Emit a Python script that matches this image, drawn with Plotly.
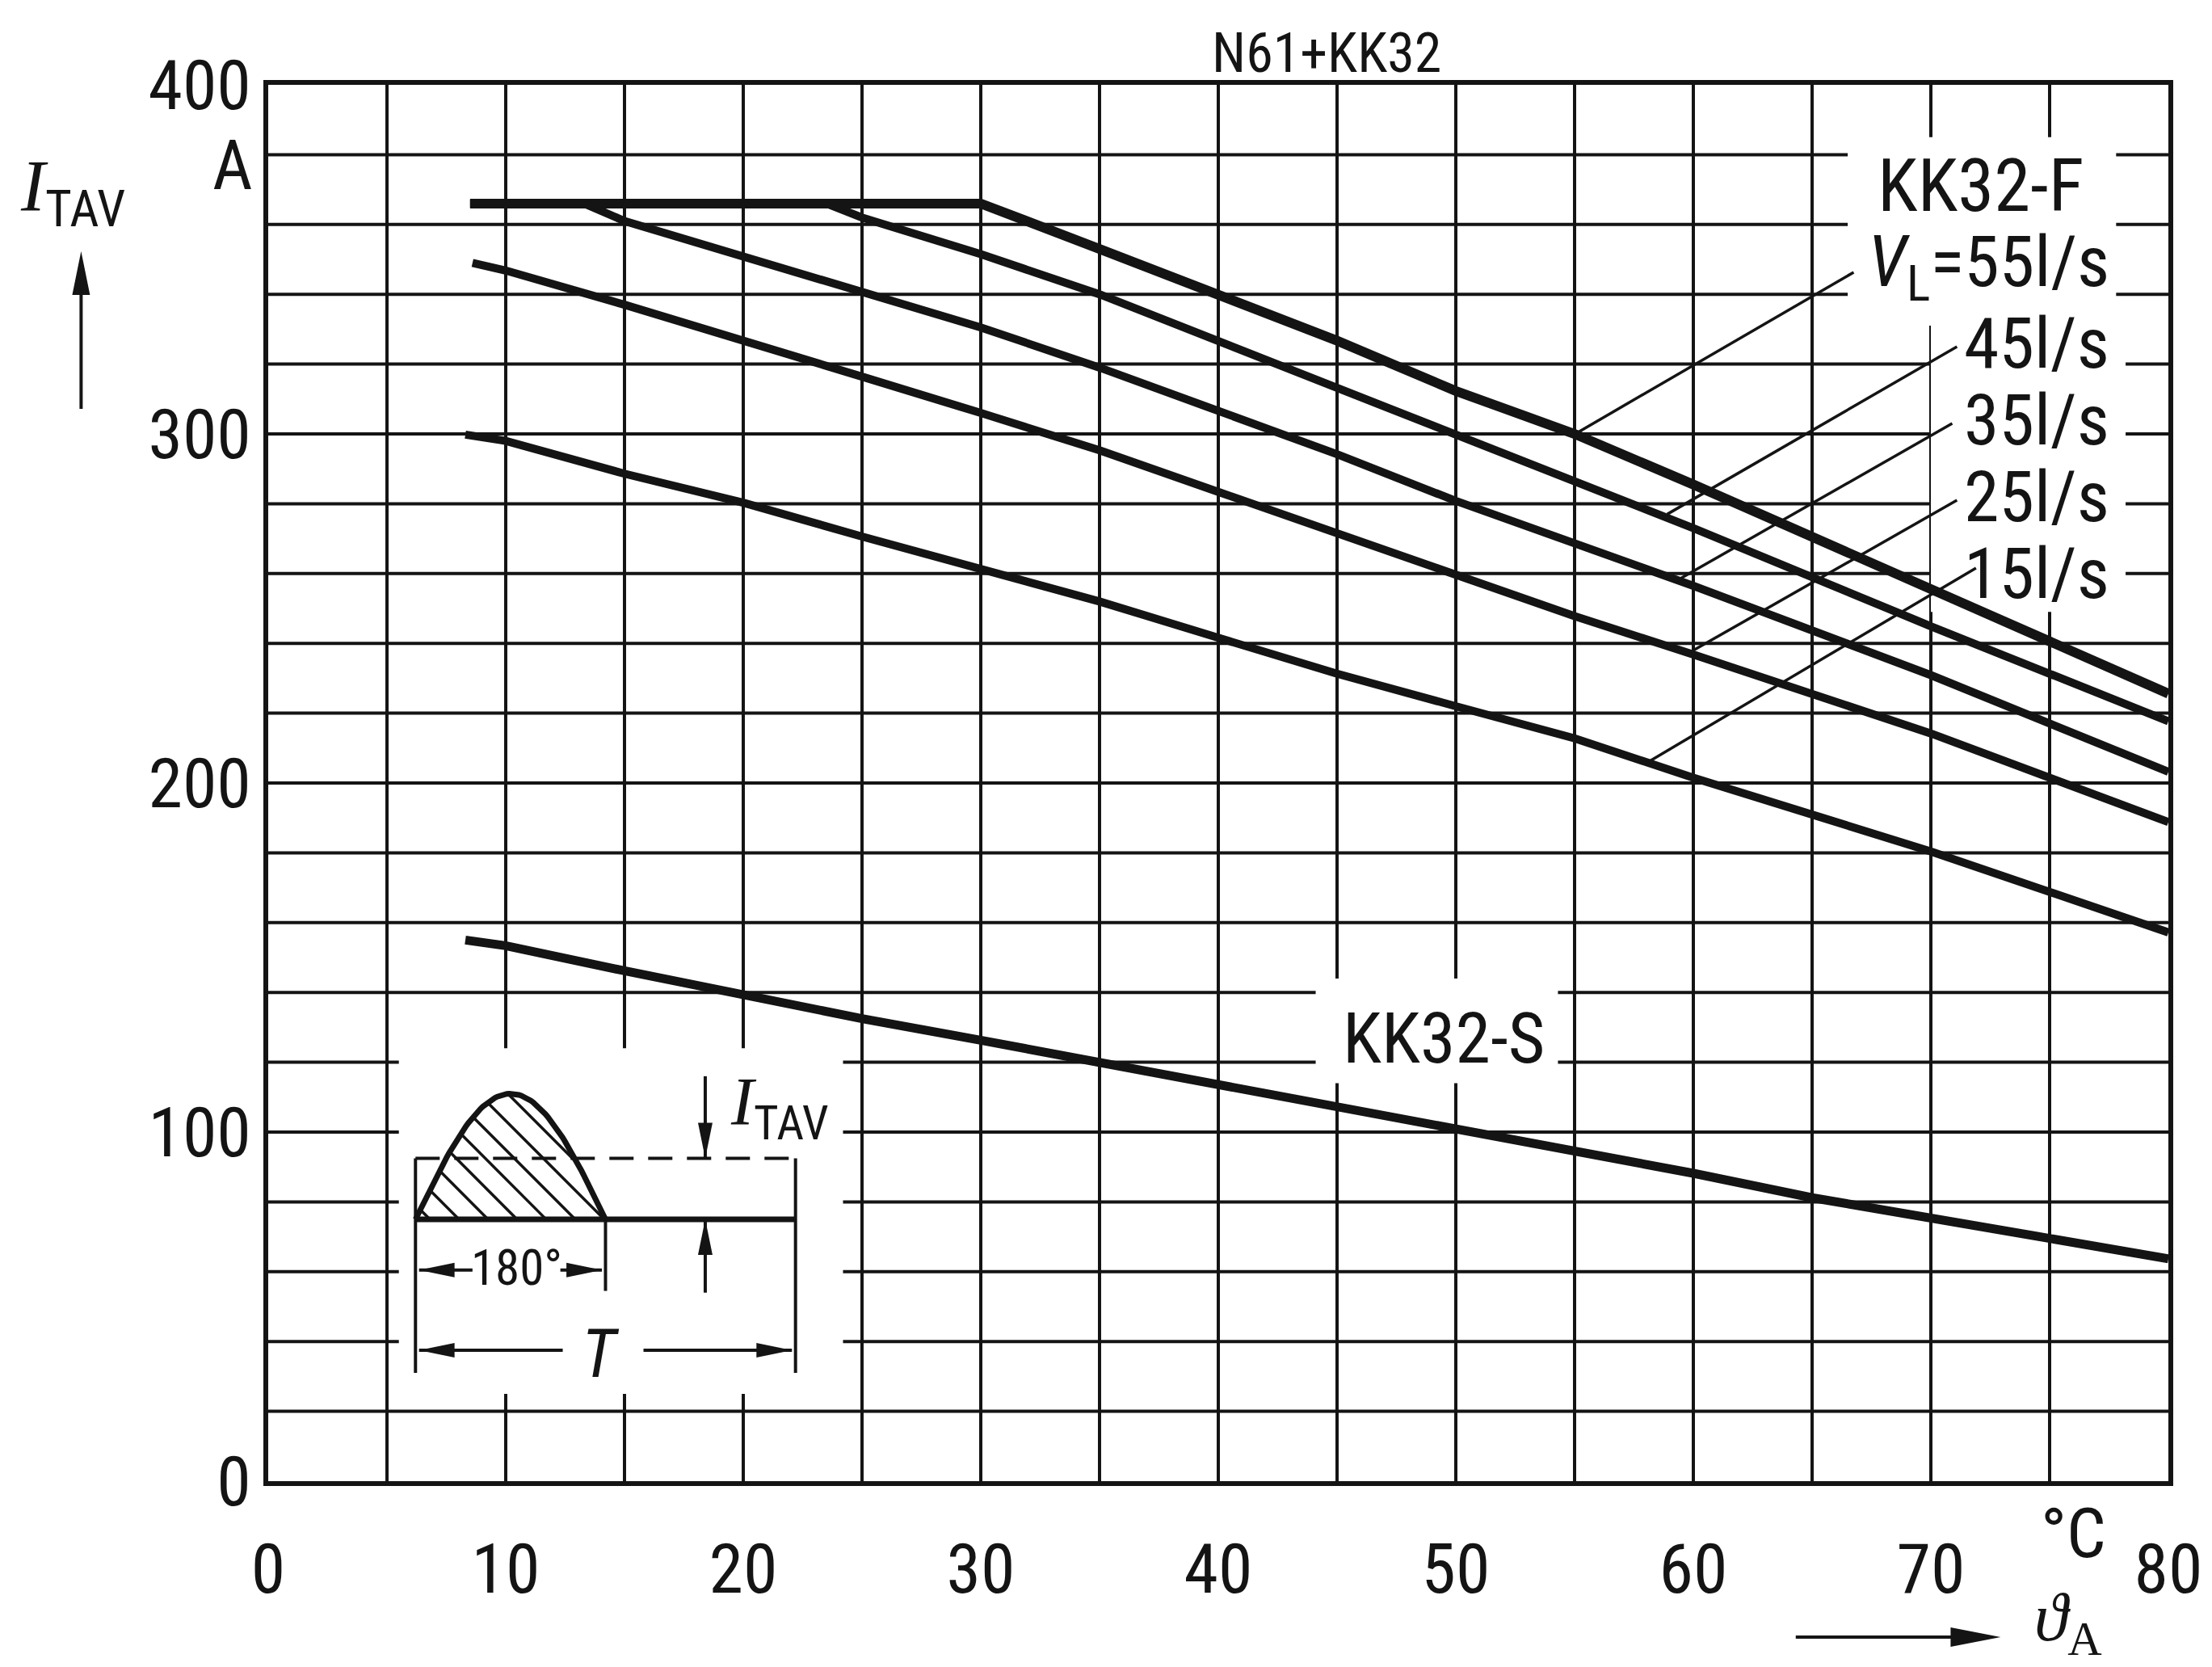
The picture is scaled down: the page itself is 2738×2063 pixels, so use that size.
import numpy as np
import plotly.graph_objects as go

FONT = ("Roboto Condensed, Noto Sans Condensed, Open Sans Condensed, "
        "Liberation Sans Narrow, Liberation Sans, sans-serif")
SERIF = "Liberation Serif, DejaVu Serif, serif"
INK = "#141414"

# ---------------------------------------------------------------------------
# Permissible average on-state current I_TAV (A) vs. ambient temperature (°C)
# N61 + KK32 heatsink, forced air (KK32-F) for several air flows, natural (KK32-S)
# ---------------------------------------------------------------------------
temp_55 = [8.5, 30, 35, 40, 45, 50, 55, 60, 70, 80]
itav_55 = [366, 366, 353, 340, 326.7, 312.3, 300, 285.5, 255.4, 225.6]

temp_45 = [8.5, 23.5, 25, 30, 35, 40, 45, 50, 55, 60, 70, 80]
itav_45 = [366, 366, 362, 351.5, 340, 326.7, 313.3, 299.9, 286.5, 273, 244.9, 217.7]

temp_35 = [8.5, 13.3, 15, 20, 25, 30, 35, 40, 45, 50, 55, 60, 70, 80]
itav_35 = [366, 366, 361, 351, 340.6, 330.5, 319, 306.8, 294.2, 280.8, 268.5, 256.5, 230.9, 203.2]

temp_25 = [8.6, 10, 15, 20, 25, 30, 35, 40, 45, 50, 55, 60, 70, 80]
itav_25 = [349, 346.8, 337, 327, 316.4, 306, 295.3, 283.4, 271.5, 259.2, 247.8, 236.8, 214.2, 188.8]

temp_15 = [8.3, 10, 15, 20, 25, 30, 35, 40, 45, 50, 55, 60, 70, 80]
itav_15 = [299.8, 298, 288.6, 280.3, 270.6, 261.5, 252, 241.6, 231.3, 222, 212.8, 201.5, 180.4, 157.2]

temp_s = [8.3, 10, 15, 20, 25, 30, 35, 40, 45, 50, 55, 60, 65, 70, 75, 80]
itav_s = [155, 153.4, 146.2, 139.1, 132.5, 126.3, 120, 113.8, 107.3, 100.7, 94.5, 88.2, 81.2, 75.4, 69.6, 63.7]

# air-flow labels and their leader lines (label end -> point on curve)
flow_labels = ["<i>V</i><sub>L</sub>=55l/s", "45l/s", "35l/s", "25l/s", "15l/s"]
flow_label_y = [348, 326, 304, 282, 260]
leader_from = [(66.75, 346.3), (71.1, 325), (70.9, 303), (71.1, 281), (71.9, 261.6)]
leader_to = [(55.1, 300.3), (58.9, 277), (59.2, 257.6), (59.9, 237.6), (58.0, 205.6)]

# axes
x_major = [0, 10, 20, 30, 40, 50, 60, 70, 80]
x_labels = ["0", "10", "20", "30", "40", "50", "60", "70", "80"]
y_major = [0, 100, 200, 300, 400]
y_labels = ["0", "100", "200", "300", "400"]
x_grid = list(range(5, 80, 5))
y_grid = list(range(20, 400, 20))

# blank (label) areas cut out of the grid: x0, x1, y0, y1
label_blanks = [
    (66.5, 77.8, 331, 385),
    (70.0, 78.2, 249, 336),
    (44.1, 54.3, 114, 144),
    (5.5, 24.2, 25, 124),
]

# inset waveform sketch (half-wave sine, 180° conduction)
inset_left, inset_mid, inset_right = 6.2, 14.2, 22.2
inset_base, inset_peak, inset_avg = 75, 111, 92.5
inset_bottom = 31
hatch_spacing_px = 36

# figure geometry in pixels
W, H = 2738, 2063
ML, MR, MT, MB = 332, 50, 105, 230
PW, PH = W - ML - MR, H - MT - MB
KX, KY = PW / 80.0, PH / 400.0  # pixels per data unit


def px_x(px):
    """Paper x from a horizontal pixel position."""
    return (px - ML) / PW


def px_y(py):
    """Paper y from a vertical pixel position (measured from the top)."""
    return (H - MB - py) / PH


def tri_path(tx, ty, ux, uy, length, width, kx, ky):
    """Filled arrow head with tip (tx, ty) pointing along (ux, uy) in pixel space."""
    bx, by = tx - ux * length / kx, ty - uy * length / ky
    nx, ny = -uy, ux
    lx, ly = bx + nx * width / 2 / kx, by + ny * width / 2 / ky
    rx, ry = bx - nx * width / 2 / kx, by - ny * width / 2 / ky
    return f"M{tx},{ty} L{lx},{ly} L{rx},{ry} Z"


def add_line(fig, xs, ys, width, dash=None):
    fig.add_trace(go.Scatter(x=xs, y=ys, mode="lines",
                             line=dict(color=INK, width=width, dash=dash),
                             hoverinfo="skip", showlegend=False))


def wave(x):
    return inset_base + (inset_peak - inset_base) * np.sin(
        np.pi * (x - inset_left) / (inset_mid - inset_left))


fig = go.Figure()

# grid (5 °C x 20 A)
gx, gy = [], []
for v in x_grid:
    gx += [v, v, None]
    gy += [0, 400, None]
for v in y_grid:
    gx += [0, 80, None]
    gy += [v, v, None]
add_line(fig, gx, gy, 4)

# white label areas over the grid
for x0, x1, y0, y1 in label_blanks:
    fig.add_trace(go.Scatter(x=[x0, x1, x1, x0, x0], y=[y0, y0, y1, y1, y0],
                             mode="none", fill="toself", fillcolor="white",
                             hoverinfo="skip", showlegend=False))

# characteristic curves
for tx, iy, w in [(temp_55, itav_55, 12), (temp_45, itav_45, 10), (temp_35, itav_35, 10),
                  (temp_25, itav_25, 10), (temp_15, itav_15, 10), (temp_s, itav_s, 11)]:
    add_line(fig, tx, iy, w)

for (x0, y0), (x1, y1) in zip(leader_from, leader_to):
    add_line(fig, [x0, x1], [y0, y1], 3.5)

# --- inset sketch -----------------------------------------------------------
# hatching of the conducting half wave: 45° lines (in screen space) clipped to the area
hx, hy = [], []
xs = np.linspace(inset_left, inset_mid, 800)
c_min = inset_left * KX + inset_base * KY
c_max = inset_mid * KX + inset_peak * KY
for c in np.arange(c_min + hatch_spacing_px / 2, c_max, hatch_spacing_px):
    ys = (c - xs * KX) / KY
    inside = (ys >= inset_base) & (ys <= wave(xs))
    if inside.any():
        idx = np.where(inside)[0]
        hx += [xs[idx[0]], xs[idx[-1]], None]
        hy += [ys[idx[0]], ys[idx[-1]], None]
add_line(fig, hx, hy, 3.5)

wave_x = np.linspace(inset_left, inset_mid, 80)
add_line(fig, [inset_left, inset_right], [inset_avg, inset_avg], 4, dash="30px,18px")
add_line(fig, wave_x, wave(wave_x), 7)
add_line(fig, [inset_left, inset_right], [inset_base, inset_base], 7)
for xv, ya, yb in [(inset_left, inset_avg, inset_bottom),
                   (inset_right, inset_avg, inset_bottom),
                   (inset_mid, inset_base, 54.5)]:
    add_line(fig, [xv, xv], [ya, yb], 4)

# dimension arrows in the inset: (shaft start x, y, tip x, y)
inset_arrows = [
    (8.6, 60.5, 6.35, 60.5),
    (12.3, 60.5, 14.05, 60.5),
    (12.4, 37.5, 6.35, 37.5),
    (15.8, 37.5, 22.05, 37.5),
    (18.4, 116, 18.4, inset_avg),
    (18.4, 54, 18.4, inset_base),
]
shapes = []
for sx, sy, tx, ty in inset_arrows:
    add_line(fig, [sx, tx], [sy, ty], 4)
    dx, dy = (tx - sx) * KX, (ty - sy) * KY
    n = np.hypot(dx, dy)
    shapes.append(dict(type="path", xref="x", yref="y",
                       path=tri_path(tx, ty, dx / n, dy / n, 44, 18, KX, KY),
                       fillcolor=INK, line=dict(width=0), layer="above"))

# axis direction arrows (paper coordinates)
y_arrow_x, y_arrow_y0, y_arrow_y1 = px_x(100), px_y(506), px_y(311)
x_arrow_y, x_arrow_x0, x_arrow_x1 = px_y(2026), px_x(2226), px_x(2480)
shapes.append(dict(type="line", xref="paper", yref="paper", x0=y_arrow_x, x1=y_arrow_x,
                   y0=y_arrow_y0, y1=y_arrow_y1 - 40 / PH, line=dict(color=INK, width=4)))
shapes.append(dict(type="path", xref="paper", yref="paper",
                   path=tri_path(y_arrow_x, y_arrow_y1, 0, 1, 54, 22, PW, PH),
                   fillcolor=INK, line=dict(width=0)))
shapes.append(dict(type="line", xref="paper", yref="paper", x0=x_arrow_x0, x1=x_arrow_x1 - 40 / PW,
                   y0=x_arrow_y, y1=x_arrow_y, line=dict(color=INK, width=4)))
shapes.append(dict(type="path", xref="paper", yref="paper",
                   path=tri_path(x_arrow_x1, x_arrow_y, 1, 0, 62, 24, PW, PH),
                   fillcolor=INK, line=dict(width=0)))

I_SYM = f'<span style="font-family:{SERIF}"><i>I</i></span>'

annotations = [
    dict(text="N61+KK32", xref="paper", yref="paper", x=px_x(1644), y=px_y(66),
         xanchor="center", yanchor="middle", font=dict(size=68)),
    dict(text=f"{I_SYM}<sub>TAV</sub>", xref="paper", yref="paper", x=px_x(22), y=px_y(238),
         xanchor="left", yanchor="middle", font=dict(size=90)),
    dict(text="A", xref="paper", yref="y", x=px_x(288), y=377, xanchor="center",
         yanchor="middle", font=dict(size=86)),
    dict(text="°C", xref="x", yref="paper", x=76.0, y=px_y(1897), xanchor="center",
         yanchor="middle", font=dict(size=86)),
    dict(text="<i>ϑ</i><sub>A</sub>", xref="paper", yref="paper", x=px_x(2520), y=px_y(2008),
         xanchor="left", yanchor="middle", font=dict(size=84, family=SERIF)),
    dict(text="KK32-F", x=72.1, y=371, font=dict(size=91)),
    dict(text="KK32-S", x=49.5, y=127, font=dict(size=88)),
    dict(text="180°", x=10.45, y=61, font=dict(size=61)),
    dict(text="<i>T</i>", x=14.0, y=36.5, font=dict(size=84)),
    dict(text=f"{I_SYM}<sub>TAV</sub>", x=19.4, y=107, xanchor="left", font=dict(size=84)),
]
for txt, yv in zip(flow_labels, flow_label_y):
    annotations.append(dict(text=txt, x=77.6, y=yv, xanchor="right", font=dict(size=88)))
for a in annotations:
    a["showarrow"] = False

axis_common = dict(ticks="", showgrid=False, zeroline=False, showline=True, mirror=True,
                   linewidth=6, linecolor=INK, tickfont=dict(size=86))
fig.update_layout(
    width=W, height=H,
    margin=dict(l=ML, r=MR, t=MT, b=MB),
    paper_bgcolor="white", plot_bgcolor="white",
    font=dict(family=FONT, color=INK, size=86),
    xaxis=dict(range=[0, 80], tickvals=x_major, ticktext=x_labels, ticklabelstandoff=29,
               **axis_common),
    yaxis=dict(range=[0, 400], tickvals=y_major, ticktext=y_labels, ticklabelstandoff=-2,
               **axis_common),
    shapes=shapes,
    annotations=annotations,
    showlegend=False,
)

fig.write_html("out.html")
